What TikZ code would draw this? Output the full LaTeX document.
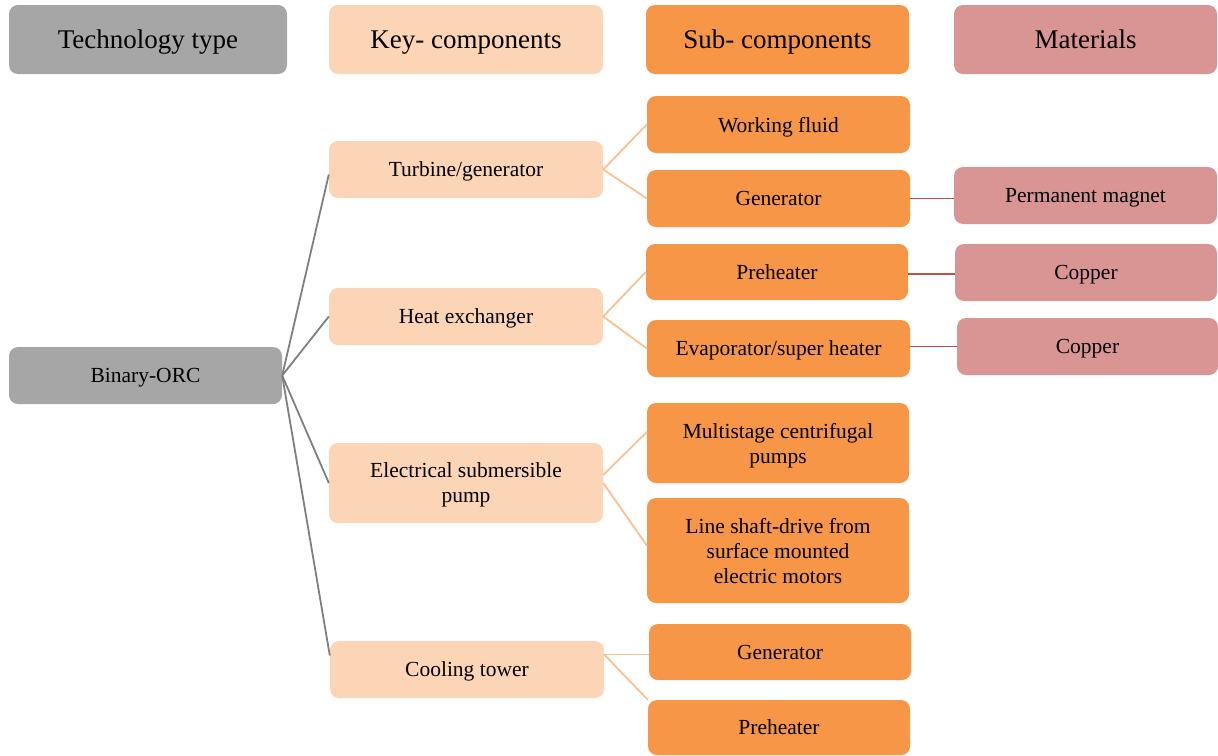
\documentclass[tikz,border=0pt]{standalone}
\usepackage{fontspec}
\setmainfont{Liberation Serif}
\definecolor{cgray}{HTML}{A6A6A6}
\definecolor{cpeach}{HTML}{FBD5B5}
\definecolor{corange}{HTML}{F79646}
\definecolor{cpink}{HTML}{D99594}
\definecolor{lgray}{HTML}{7F7F7F}
\definecolor{lpeach}{HTML}{FAC090}
\definecolor{lred}{HTML}{C0504D}
\begin{document}
\begin{tikzpicture}[x=1pt,y=-1pt,
  box/.style={rectangle,rounded corners=9pt,inner sep=0pt,align=center,text depth=0pt,
    font=\fontsize{21.5}{25}\selectfont},
  hdr/.style={box,minimum height=69pt,font=\fontsize{27}{31}\selectfont},
  gbox/.style={fill=cgray},
  pbox/.style={fill=cpeach},
  obox/.style={fill=corange},
  mbox/.style={fill=cpink},
  gline/.style={draw=lgray,line width=1.8pt},
  pline/.style={draw=lpeach,line width=1.8pt},
  rline/.style={draw=lred,line width=1.6pt}]
\useasboundingbox (0,0) rectangle (1218,755);
% headers
\node[hdr,gbox,minimum width=278pt] (h1) at (148,39.5) {Technology type};
\node[hdr,pbox,minimum width=274pt] (h2) at (466,39.5) {Key- components};
\node[hdr,obox,minimum width=263pt] (h3) at (777.5,39.5) {Sub- components};
\node[hdr,mbox,minimum width=263pt] (h4) at (1085.5,39.5) {Materials};
% technology
\node[box,gbox,minimum width=273pt,minimum height=57pt] (bin) at (145.5,375.5) {Binary-ORC};
% key components
\node[box,pbox,minimum width=274pt,minimum height=57pt] (tur) at (466,169.5) {Turbine/generator};
\node[box,pbox,minimum width=274pt,minimum height=57pt] (heat) at (466,316.5) {Heat exchanger};
\node[box,pbox,minimum width=274pt,minimum height=80pt] (esp) at (466,483) {Electrical submersible\\pump};
\node[box,pbox,minimum width=274pt,minimum height=57pt] (cool) at (467,669.5) {Cooling tower};
% sub components
\node[box,obox,minimum width=263pt,minimum height=57pt] (wf) at (778.5,124.5) {Working fluid};
\node[box,obox,minimum width=263pt,minimum height=57pt] (gen) at (778.5,198.5) {Generator};
\node[box,obox,minimum width=262pt,minimum height=56pt] (pre) at (777,272) {Preheater};
\node[box,obox,minimum width=263pt,minimum height=57pt] (evap) at (778.5,348.5) {Evaporator/super heater};
\node[box,obox,minimum width=262pt,minimum height=80pt] (multi) at (778,443) {Multistage centrifugal\\pumps};
\node[box,obox,minimum width=262pt,minimum height=105pt] (lsd) at (778,550.5) {Line shaft-drive from\\surface mounted\\electric motors};
\node[box,obox,minimum width=262pt,minimum height=56pt] (gen2) at (780,652) {Generator};
\node[box,obox,minimum width=262pt,minimum height=55pt] (pre2) at (779,727.5) {Preheater};
% materials
\node[box,mbox,minimum width=263pt,minimum height=57pt] (pm) at (1085.5,195.5) {Permanent magnet};
\node[box,mbox,minimum width=262pt,minimum height=57pt] (cu1) at (1086,272.5) {Copper};
\node[box,mbox,minimum width=261pt,minimum height=57pt] (cu2) at (1087.5,346.5) {Copper};
% technology -> key
\draw[gline] (bin.east) -- ([yshift=-5pt]tur.west);
\draw[gline] (bin.east) -- (heat.west);
\draw[gline] (bin.east) -- (esp.west);
\draw[gline] (bin.east) -- ([yshift=14pt]cool.west);
% key -> sub
\draw[pline] (tur.east) -- (wf.west);
\draw[pline] (tur.east) -- (gen.west);
\draw[pline] (heat.east) -- (pre.west);
\draw[pline] (heat.east) -- (evap.west);
\draw[pline] ([yshift=8pt]esp.east) -- ([yshift=11pt]multi.west);
\draw[pline] (esp.east) -- ([yshift=5pt]lsd.west);
\coordinate (ce) at ([yshift=15pt]cool.east);
\draw[pline] (ce) -- (ce -| gen2.west);
\draw[pline] (ce) -- (pre2.north west);
% sub -> materials
\draw[rline] (gen.east) -- (gen.east -| pm.west);
\draw[rline] ([yshift=-2pt]pre.east) -- ([yshift=-2pt]pre.east -| cu1.west);
\draw[rline] ([yshift=2pt]evap.east) -- ([yshift=2pt]evap.east -| cu2.west);
\end{tikzpicture}
\end{document}
